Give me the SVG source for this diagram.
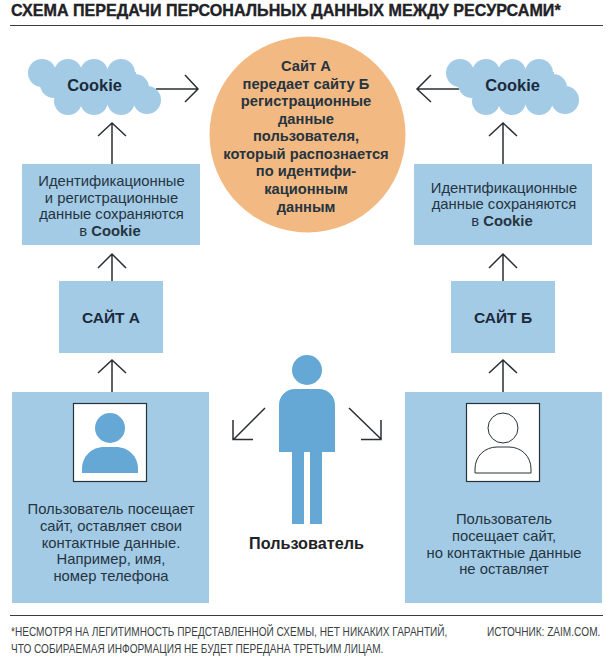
<svg xmlns="http://www.w3.org/2000/svg" width="606" height="662" viewBox="0 0 606 662">
<style>
text{font-family:"Liberation Sans",Arial,sans-serif;fill:#25343f;text-anchor:middle}
.t{font-size:14.8px}
.b{font-size:14.7px;font-weight:700}
.bt{font-weight:700}
.c{font-size:16.4px;font-weight:700;fill:#1b2a3a}
.s{font-size:15.5px;font-weight:700;fill:#1b2a3a}
.p{font-size:16.2px;font-weight:700;fill:#1f2226}
.h{font-size:16.1px;font-weight:700;fill:#1f2226;text-anchor:start;stroke:#1f2226;stroke-width:.35}
.f{font-size:12.5px;fill:#3a3f44;text-anchor:start}
.box{fill:#a3cbe6}
.cl{fill:#a3cbe6}
.ln{fill:none;stroke:#2a2f33;stroke-width:1.5}
.rule{stroke:#3a3d40;stroke-width:1.2}
.ic{fill:#65a8d6}
.card{fill:#fff;stroke:#26323a;stroke-width:1.2}
</style>
<defs>
<g id="cloud">
<circle cx="42" cy="73" r="14"/><circle cx="68" cy="73" r="14"/><circle cx="94" cy="73" r="14"/><circle cx="121" cy="73" r="14"/>
<circle cx="68" cy="101" r="14"/><circle cx="94" cy="101" r="14"/><circle cx="121" cy="101" r="14"/><circle cx="147" cy="100" r="14"/>
<circle cx="135" cy="88" r="14"/><circle cx="54" cy="84" r="14"/>
<rect x="56" y="72" width="80" height="30"/>
</g>
</defs>
<rect width="606" height="662" fill="#fff"/>
<text class="h" x="11" y="16">СХЕМА ПЕРЕДАЧИ ПЕРСОНАЛЬНЫХ ДАННЫХ МЕЖДУ РЕСУРСАМИ*</text>
<line class="rule" x1="10" y1="25.5" x2="603" y2="25.5"/>

<g id="connectors">
<path class="ln" d="M156 89H197M185 75L198 89L185 102"/>
<path class="ln" d="M459 89H418M431 75L417 89L431 102"/>
<path class="ln" d="M112 164V124M98 136L112 123L126 136"/>
<path class="ln" d="M503 164V124M489 136L503 123L517 136"/>
<path class="ln" d="M112 281V255M98 268L112 254L126 268"/>
<path class="ln" d="M503 281V255M489 268L503 254L517 268"/>
<path class="ln" d="M112 392V361M98 373L112 360L126 373"/>
<path class="ln" d="M503 392V361M489 373L503 360L517 373"/>
<path class="ln" d="M265 408L234 439M233 420V439.5H253"/>
<path class="ln" d="M349 408L381 439M381 420V439.5H361"/>
</g>

<g id="cookie-a"><use href="#cloud" class="cl"/><text class="c" x="94.500" y="91">Cookie</text></g>
<g id="cookie-b"><use href="#cloud" class="cl" transform="translate(418 0)"/><text class="c" x="512.500" y="91">Cookie</text></g>

<g id="center">
<circle cx="307.500" cy="134.500" r="98" fill="#f3b982"/>
<text class="b" x="306" y="71">Сайт А</text>
<text class="b" x="306" y="89">передает сайту Б</text>
<text class="b" x="306" y="106">регистрационные</text>
<text class="b" x="306" y="124">данные</text>
<text class="b" x="306" y="141">пользователя,</text>
<text class="b" x="306" y="159">который распознается</text>
<text class="b" x="306" y="176">по идентифи-</text>
<text class="b" x="306" y="194">кационным</text>
<text class="b" x="306" y="212">данным</text>
</g>

<g id="store-a">
<rect class="box" x="22" y="164" width="178" height="81"/>
<text class="t" x="111.500" y="186">Идентификационные</text>
<text class="t" x="111.500" y="203">и регистрационные</text>
<text class="t" x="111.500" y="219">данные сохраняются</text>
<text class="t" x="110" y="236">в <tspan class="bt">Cookie</tspan></text>
</g>
<g id="store-b">
<rect class="box" x="414" y="164" width="178" height="81"/>
<text class="t" x="504" y="193">Идентификационные</text>
<text class="t" x="504" y="209">данные сохраняются</text>
<text class="t" x="502" y="226">в <tspan class="bt">Cookie</tspan></text>
</g>

<g id="site-a">
<rect class="box" x="59" y="281" width="104" height="72"/>
<text class="s" x="111" y="323">САЙТ А</text>
</g>
<g id="site-b">
<rect class="box" x="451" y="281" width="104" height="72"/>
<text class="s" x="503" y="323">САЙТ Б</text>
</g>

<g id="user-a">
<rect class="box" x="12" y="392" width="197" height="211"/>
<rect class="card" x="73.500" y="403.500" width="73" height="78"/>
<circle class="ic" cx="110" cy="428" r="15"/>
<path class="ic" d="M82 473V469C82 456 92 447 104 447H116C128 447 138 456 138 469V473Z"/>
<text class="t" x="111" y="514">Пользователь посещает</text>
<text class="t" x="111" y="531">сайт, оставляет свои</text>
<text class="t" x="111" y="548">контактные данные.</text>
<text class="t" x="111" y="564">Например, имя,</text>
<text class="t" x="111" y="581">номер телефона</text>
</g>
<g id="user-b">
<rect class="box" x="405" y="392" width="197" height="211"/>
<rect class="card" x="466.500" y="403.500" width="73" height="78"/>
<circle cx="503" cy="428" r="15" fill="#fff" stroke="#26323a" stroke-width="1"/>
<path d="M475 473V469C475 456 485 447 497 447H509C521 447 531 456 531 469V473Z" fill="#fff" stroke="#26323a" stroke-width="1"/>
<text class="t" x="504" y="524">Пользователь</text>
<text class="t" x="504" y="541">посещает сайт,</text>
<text class="t" x="504" y="558">но контактные данные</text>
<text class="t" x="504" y="574">не оставляет</text>
</g>

<g id="person">
<circle class="ic" cx="307" cy="370" r="15"/>
<path class="ic" d="M279 452V405C279 396 286 389 295 389H319C328 389 335 396 335 405V452H322V524H310V452H304V524H292V452Z"/>
<text class="p" x="306.500" y="549">Пользователь</text>
</g>

<line class="rule" x1="10" y1="615.500" x2="603" y2="615.500"/>
<text class="f" transform="translate(11 636) scale(.807 1)">*НЕСМОТРЯ НА ЛЕГИТИМНОСТЬ ПРЕДСТАВЛЕННОЙ СХЕМЫ, НЕТ НИКАКИХ ГАРАНТИЙ,</text>
<text class="f" transform="translate(11 653) scale(.807 1)">ЧТО СОБИРАЕМАЯ ИНФОРМАЦИЯ НЕ БУДЕТ ПЕРЕДАНА ТРЕТЬИМ ЛИЦАМ.</text>
<text class="f" transform="translate(487 636) scale(.807 1)">ИСТОЧНИК: ZAIM.COM.</text>
</svg>
